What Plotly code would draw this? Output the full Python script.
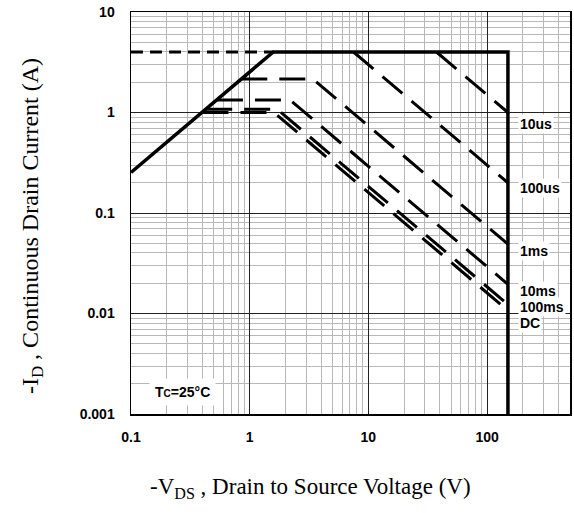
import math
import plotly.graph_objects as go

# ---- data ----
# SOA boundary (thick solid): Rds(on) limit, 4 A current limit, 150 V voltage limit
soa_v = [0.1, 1.58, 150, 150]
soa_i = [0.253, 4.0, 4.0, 0.001]

# dashed extension of the 4 A limit
ext_v = [0.1, 1.58]
ext_i = [4.0, 4.0]

# pulse-width curves (dashed)
v_10us = [37.5, 150]
i_10us = [4.0, 1.0]
v_100us = [7.5, 150]
i_100us = [4.0, 0.2]
v_1ms = [0.85, 3.4, 150]
i_1ms = [2.16, 2.16, 0.049]
v_10ms = [0.53, 2.19, 150]
i_10ms = [1.33, 1.33, 0.0195]
v_100ms = [0.43, 1.7, 150]
i_100ms = [1.08, 1.08, 0.0123]
v_dc = [0.40, 1.6, 150]
i_dc = [1.0, 1.0, 0.0107]

curve_labels = ["10us", "100us", "1ms", "10ms", "100ms", "DC"]

x_tickvals = [0.1, 1, 10, 100]
x_ticktext = ["0.1", "1", "10", "100"]
y_tickvals = [0.001, 0.01, 0.1, 1, 10]
y_ticktext = ["0.001", "0.01", "0.1", "1", "10"]

# ---- figure ----
fig = go.Figure()

pulse_dash = "26px,12px"
for v, i in [(v_10us, i_10us), (v_100us, i_100us), (v_1ms, i_1ms),
             (v_10ms, i_10ms), (v_100ms, i_100ms), (v_dc, i_dc)]:
    fig.add_trace(go.Scatter(x=v, y=i, mode="lines",
                             line=dict(color="black", width=3, dash=pulse_dash),
                             showlegend=False, hoverinfo="skip"))

fig.add_trace(go.Scatter(x=ext_v, y=ext_i, mode="lines",
                         line=dict(color="black", width=3, dash="12px,7px"),
                         showlegend=False, hoverinfo="skip"))
fig.add_trace(go.Scatter(x=soa_v, y=soa_i, mode="lines",
                         line=dict(color="black", width=3.5),
                         showlegend=False, hoverinfo="skip"))

def minor_vals(lo, hi):
    vals = []
    for e in range(lo, hi):
        for m in range(2, 10):
            vals.append(m * 10 ** e)
    return vals

tick_font = dict(family="Arial, Liberation Sans, sans-serif", size=14,
                 color="black", weight="bold")

fig.update_xaxes(type="log", range=[-1, math.log10(500)],
                 tickmode="array", tickvals=x_tickvals, ticktext=x_ticktext,
                 tickfont=tick_font, ticks="", ticklabelstandoff=10,
                 ticklabeloverflow="allow",
                 showgrid=True, gridcolor="#222222", gridwidth=1,
                 minor=dict(tickmode="array", tickvals=minor_vals(-1, 3),
                            showgrid=True, gridcolor="#b8b8b8", gridwidth=1, ticks=""),
                 showline=True, linecolor="black", linewidth=1.5, mirror=True,
                 zeroline=False, automargin=False)
fig.update_yaxes(type="log", range=[-3, 1],
                 tickmode="array", tickvals=y_tickvals, ticktext=y_ticktext,
                 tickfont=tick_font, ticks="", ticklabelstandoff=12,
                 ticklabeloverflow="allow",
                 showgrid=True, gridcolor="#222222", gridwidth=1,
                 minor=dict(tickmode="array", tickvals=minor_vals(-3, 1),
                            showgrid=True, gridcolor="#b8b8b8", gridwidth=1, ticks=""),
                 showline=True, linecolor="black", linewidth=1.5, mirror=True,
                 zeroline=False, automargin=False)

label_font = dict(family="Arial, Liberation Sans, sans-serif", size=14,
                  color="black", weight="bold")
label_y = [0.7226, 0.5622, 0.4055, 0.306, 0.2662, 0.2264]
for txt, yy in zip(curve_labels, label_y):
    fig.add_annotation(x=0.8815, y=yy, xref="paper", yref="paper",
                       text=txt, showarrow=False, xanchor="left", yanchor="middle",
                       font=label_font, bgcolor="white", borderpad=1)

fig.add_annotation(x=0.118, y=0.0547, xref="paper", yref="paper",
                   text="T<span style='font-size:10px'>C</span>=25°C",
                   showarrow=False, xanchor="center", yanchor="middle",
                   font=label_font, bgcolor="white", borderpad=5)

fig.add_annotation(x=0.41, y=-0.184, xref="paper", yref="paper",
                   text="-V<sub>DS</sub> , Drain to Source Voltage (V)",
                   showarrow=False, xanchor="center", yanchor="middle",
                   font=dict(family="Times New Roman, Liberation Serif, serif",
                             size=23, color="black"))
fig.add_annotation(x=-0.2255, y=0.4677, xref="paper", yref="paper",
                   text="-I<sub>D</sub> , Continuous Drain Current (A)",
                   showarrow=False, xanchor="center", yanchor="middle",
                   textangle=-90,
                   font=dict(family="Times New Roman, Liberation Serif, serif",
                             size=24, color="black"))

fig.update_layout(width=574, height=513,
                  margin=dict(l=131, r=4, t=12, b=99),
                  paper_bgcolor="white", plot_bgcolor="white",
                  showlegend=False, hovermode=False)

# remove the default page-body margin so the figure sits at the window origin
fig.write_html("out.html",
               config={"displayModeBar": False, "staticPlot": True},
               post_script="document.body.style.margin='0';document.body.style.overflow='hidden';")
